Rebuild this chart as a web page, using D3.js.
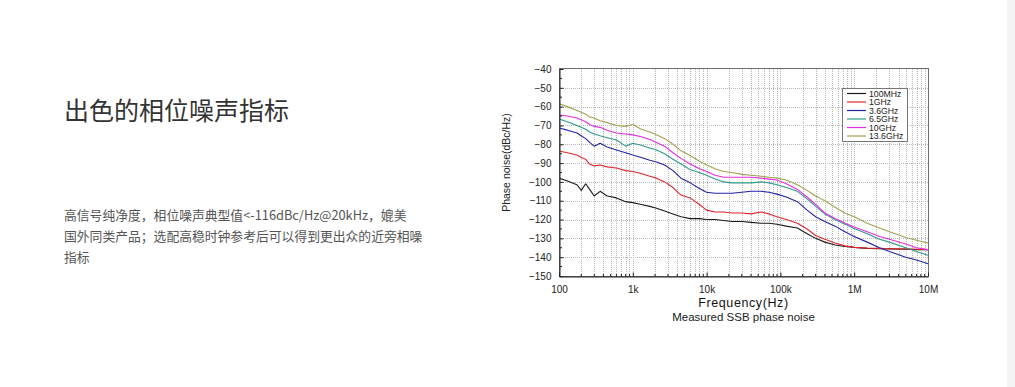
<!DOCTYPE html>
<html>
<head>
<meta charset="utf-8">
<script src="https://cdn.jsdelivr.net/npm/d3@7"></script>
<style>
  body { margin: 0; background: #fff; }
  svg { display: block; }
</style>
</head>
<body>
<svg id="page"></svg>
<script>
// Frequencies (Hz) shared by every trace
const freqs = [100, 130, 175, 200, 230, 260, 300, 360, 450, 600, 800, 1000, 1300, 1700, 2100, 2700, 3500, 4500, 6000, 8000,
  10000, 13000, 17000, 22000, 30000, 40000, 55000, 70000, 90000, 120000, 170000, 230000, 300000, 400000, 550000, 750000,
  1e6, 1.5e6, 2.2e6, 3e6, 5e6, 7e6, 1e7];

// Phase noise in dBc/Hz
const noise100MHz = [-98, -99.5, -101.5, -104.5, -101, -104, -107.5, -105, -107.5, -108.5, -110.5, -111, -112, -113, -114, -115.5, -117, -118.5, -119.5, -119.5,
  -120, -120, -120.5, -121, -121, -121.5, -122, -122, -122.5, -123.5, -124.5, -127.5, -130, -132, -133.5, -134.3,
  -134.8, -135.3, -135.5, -135.6, -135.8, -136, -136];
const noise1GHz = [-83.6, -84.5, -85.7, -87, -88, -90.5, -91.5, -91, -92, -92.6, -94, -94.5, -95.5, -97, -98, -100, -103, -107, -108.5, -112,
  -115, -116, -116, -116.5, -116.5, -117, -116, -117, -118.5, -120, -122, -125, -128.5, -130.5, -132.5, -134,
  -134.8, -135.2, -135.3, -135.5, -135.6, -135.8, -136];
const noise3_6GHz = [-71.4, -72.5, -74, -75.5, -77, -79, -81, -79.5, -81.5, -83, -84.5, -85.7, -87, -88.5, -89.4, -91, -94, -98, -100.5, -103.5,
  -105.5, -106, -106, -106, -105.5, -105, -105, -105.5, -106.5, -108, -110.5, -115, -118.5, -121, -123.5, -126.5,
  -129, -132, -135, -137, -140, -141.5, -143.5];
const noise6_5GHz = [-66.6, -68, -70, -71, -72, -73.5, -74.5, -75.5, -76.5, -77.7, -81, -79.5, -80.5, -82, -83, -85, -88, -90.5, -93.5, -95,
  -96.5, -98.5, -100, -100.5, -100.5, -100.5, -100, -100.5, -101.5, -103, -105, -109, -113, -117, -120, -122.5,
  -124.8, -127.5, -130.5, -132, -135, -137, -139];
const noise10GHz = [-64.5, -65, -66, -67, -68, -69.5, -70.5, -71, -72.5, -74, -74.5, -75, -76, -77.5, -79, -81, -84.5, -87.5, -90.5, -93,
  -94.5, -96.5, -97.5, -97.5, -97.5, -97.5, -98, -98.5, -99, -101, -104, -108, -112, -116.5, -119.5, -122,
  -124, -126.5, -129, -130.5, -133, -135, -136];
const noise13_6GHz = [-58.5, -60, -62, -63, -64, -65.5, -66, -67.5, -68.5, -70, -70.5, -69.5, -72, -73.5, -75, -77, -80, -83.5, -86, -89,
  -91, -93, -94.5, -95, -96, -96.5, -97, -97.5, -98, -99, -101.5, -104.5, -107.5, -110, -113.5, -116.5,
  -118.5, -122, -124.5, -126.5, -129.5, -131, -132.5];

const seriesNames = ["100MHz", "1GHz", "3.6GHz", "6.5GHz", "10GHz", "13.6GHz"];
const seriesValues = [noise100MHz, noise1GHz, noise3_6GHz, noise6_5GHz, noise10GHz, noise13_6GHz];
const seriesColors = ["#1b1b1b", "#e0262b", "#2424a6", "#2f9a8c", "#e22ee2", "#a3a052"];

const xTickValues = [100, 1e3, 1e4, 1e5, 1e6, 1e7];
const xTickLabels = ["100", "1k", "10k", "100k", "1M", "10M"];
const yTickValues = d3.range(-40, -151, -10);

const title = "出色的相位噪声指标";
const bodyLines = [
  "高信号纯净度，相位噪声典型值<-116dBc/Hz@20kHz，媲美",
  "国外同类产品；选配高稳时钟参考后可以得到更出众的近旁相噪",
  "指标"
];

const W = 1015, H = 387;
const plot = { left: 559, right: 928, top: 69, bottom: 276 };
const cjk = "'Microsoft YaHei','Noto Sans CJK SC',sans-serif";
const latin = "Arial,'Liberation Sans',sans-serif";

const svg = d3.select("#page").attr("width", W).attr("height", H);

// scrollbar strip on the right edge
svg.append("rect").attr("x", 1007).attr("y", 0).attr("width", 8).attr("height", H).attr("fill", "#f4f4f4");

// left text block
svg.append("text")
  .attr("x", 64).attr("y", 120)
  .style("font-family", cjk).style("font-size", "25px").attr("fill", "#333")
  .text(title);

svg.append("g").selectAll("text")
  .data(bodyLines)
  .join("text")
  .attr("x", 64).attr("y", (d, i) => 220 + i * 21)
  .style("font-family", cjk).style("font-size", "12.8px").attr("fill", "#555")
  .text(d => d);

// scales
const x = d3.scaleLog().domain([100, 1e7]).range([plot.left, plot.right]);
const y = d3.scaleLinear().domain([-40, -150]).range([plot.top, plot.bottom]);

// minor frequency positions
const minorFreqs = [];
for (let dec = 100; dec < 1e7; dec *= 10) {
  for (let k = 2; k <= 9; k++) minorFreqs.push(dec * k);
}

const grid = svg.append("g").attr("stroke", "#b8b8b8").attr("stroke-width", 1).attr("stroke-dasharray", "1,1");
grid.selectAll(".vg")
  .data(minorFreqs.concat(xTickValues.slice(1, -1)))
  .join("line")
  .attr("x1", d => Math.round(x(d)) + 0.5).attr("x2", d => Math.round(x(d)) + 0.5)
  .attr("y1", plot.top).attr("y2", plot.bottom);
grid.selectAll(".hg")
  .data(yTickValues.slice(1, -1))
  .join("line")
  .attr("y1", d => Math.round(y(d)) + 0.5).attr("y2", d => Math.round(y(d)) + 0.5)
  .attr("x1", plot.left).attr("x2", plot.right);

// traces
const line = d3.line().x((d, i) => x(freqs[i])).y(d => y(d)).curve(d3.curveLinear);
svg.append("g")
  .selectAll("path")
  .data(seriesValues)
  .join("path")
  .attr("d", d => line(d))
  .attr("fill", "none")
  .attr("stroke", (d, i) => seriesColors[i])
  .attr("stroke-width", 1.1)
  .attr("stroke-linejoin", "round");

// frame
svg.append("rect")
  .attr("x", plot.left + 0.5).attr("y", plot.top - 0.5)
  .attr("width", plot.right - plot.left).attr("height", plot.bottom - plot.top + 1)
  .attr("fill", "none").attr("stroke", "#6e6e6e").attr("stroke-width", 1);

// axes (ticks pointing inward)
const xAxis = d3.axisBottom(x).tickValues(xTickValues)
  .tickFormat((d, i) => xTickLabels[i]).tickSizeInner(-4).tickSizeOuter(0).tickPadding(9);
const gx = svg.append("g").attr("transform", `translate(0,${plot.bottom + 0.5})`).call(xAxis);
gx.select(".domain").attr("stroke", "#222");
gx.selectAll(".tick line").attr("stroke", "#222");
gx.selectAll("text").style("font-family", latin).style("font-size", "10px").attr("fill", "#222");
gx.append("g").selectAll("line")
  .data(minorFreqs)
  .join("line")
  .attr("x1", d => x(d)).attr("x2", d => x(d))
  .attr("y1", 0).attr("y2", -2.5)
  .attr("stroke", "#222");

const yAxis = d3.axisLeft(y).tickValues(yTickValues)
  .tickSizeInner(-4).tickSizeOuter(0).tickPadding(8);
const gy = svg.append("g").attr("transform", `translate(${plot.left + 0.5},0)`).call(yAxis);
gy.select(".domain").attr("stroke", "#222");
gy.selectAll(".tick line").attr("stroke", "#222");
gy.selectAll("text").style("font-family", latin).style("font-size", "10px").attr("fill", "#222");
gy.append("g").selectAll("line")
  .data(d3.range(-45, -150, -10))
  .join("line")
  .attr("y1", d => y(d)).attr("y2", d => y(d))
  .attr("x1", 0).attr("x2", 2.5)
  .attr("stroke", "#222");

// axis titles
svg.append("text")
  .attr("x", (plot.left + plot.right) / 2).attr("y", 307)
  .attr("text-anchor", "middle")
  .style("font-family", latin).style("font-size", "12.5px").style("letter-spacing", "0.6px").attr("fill", "#111")
  .text("Frequency(Hz)");
svg.append("text")
  .attr("x", (plot.left + plot.right) / 2).attr("y", 321)
  .attr("text-anchor", "middle")
  .style("font-family", latin).style("font-size", "11.5px").attr("fill", "#222")
  .text("Measured SSB phase noise");
svg.append("text")
  .attr("transform", `translate(510,${(plot.top + plot.bottom) / 2 - 10}) rotate(-90)`)
  .attr("text-anchor", "middle")
  .style("font-family", latin).style("font-size", "10.5px").attr("fill", "#222")
  .text("Phase noise(dBc/Hz)");

// legend
const legend = svg.append("g").attr("transform", "translate(842,88)");
legend.append("rect")
  .attr("x", 0.5).attr("y", 0.5).attr("width", 65).attr("height", 53)
  .attr("fill", "#fff").attr("stroke", "#777");
const items = legend.selectAll(".item")
  .data(seriesNames)
  .join("g")
  .attr("transform", (d, i) => `translate(0,${5.5 + i * 8.5})`);
items.append("line")
  .attr("x1", 5).attr("x2", 24)
  .attr("stroke", (d, i) => seriesColors[i]).attr("stroke-width", 1.2);
items.append("text")
  .attr("x", 27).attr("y", 3)
  .style("font-family", latin).style("font-size", "8.7px").attr("fill", "#222")
  .text(d => d);
</script>
</body>
</html>
